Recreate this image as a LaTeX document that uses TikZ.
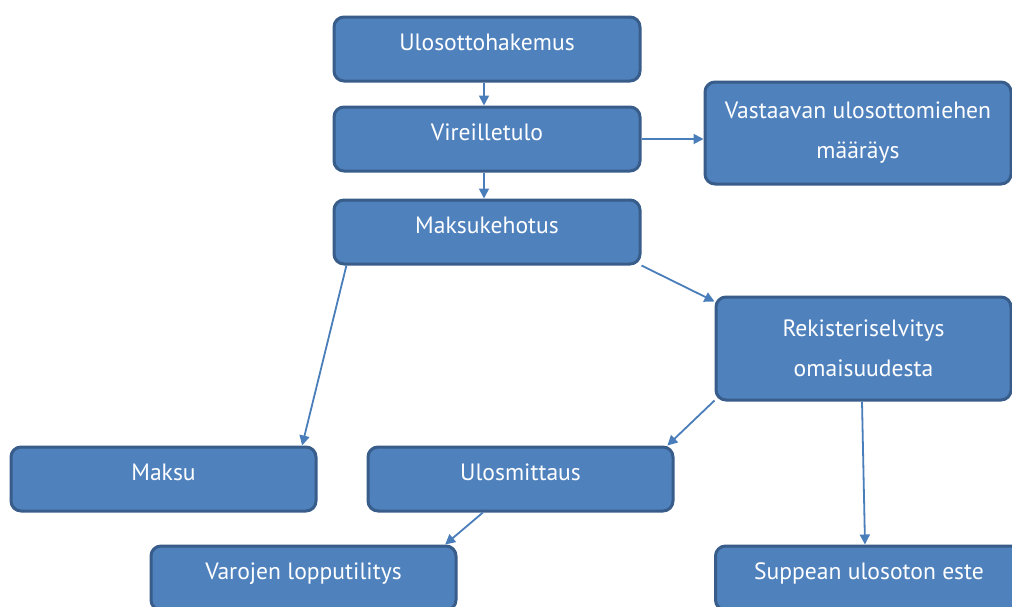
\documentclass[tikz,border=0pt]{standalone}
\usepackage{fontspec}
\setmainfont{PT Sans}
\usetikzlibrary{arrows.meta,calc}
\definecolor{boxfill}{HTML}{4F81BD}
\definecolor{boxline}{HTML}{385D8A}
\definecolor{arrowc}{HTML}{4A7EBB}
\begin{document}
\begin{tikzpicture}[x=1pt,y=-1pt,
  flowbox/.style={draw=boxline, line width=3pt, fill=boxfill, rounded corners=10pt,
    text=white, font=\fontsize{23.6}{40}\selectfont, align=center, inner sep=0pt},
  onebox/.style={flowbox, minimum width=306pt, minimum height=64pt, text depth=13pt},
  twobox/.style={flowbox, minimum height=102pt},
  conn/.style={draw=arrowc, line width=1.8pt, -{Triangle[length=10pt,width=10pt]}}]
\useasboundingbox (0,0) rectangle (1012,606);
\fill[white] (0,0) rectangle (1012,606);
\clip (0,0) rectangle (1012,606);

\node[onebox] (ulos) at (487,49) {Ulosottohakemus};
\node[onebox] (vir) at (487,139) {Vireilletulo};
\node[onebox] (maks) at (487,232) {Maksukehotus};
\node[twobox, minimum width=306pt] (vast) at (858,133) {Vastaavan ulosottomiehen\\määräys};
\node[twobox, minimum width=295pt, minimum height=103pt] (rek) at (863.5,348.5) {Rekisteriselvitys\\omaisuudesta};
\node[onebox, minimum width=305pt] (maksu) at (163.5,479) {Maksu};
\node[onebox, minimum width=305pt] (ulosm) at (520.5,479) {Ulosmittaus};
\node[onebox, minimum width=305pt] (varo) at (303.5,578) {Varojen lopputilitys};
\node[onebox, minimum width=307pt] (supp) at (869,578) {Suppean ulosoton este};

\draw[conn] ($(ulos.south)+(-3,0)$) -- ($(vir.north)+(-3,0)$);
\draw[conn] ($(vir.south)+(-3,0)$) -- ($(maks.north)+(-3,0)$);
\draw[conn] (vir.east) -- (vir.east -| vast.west);
\draw[conn] (maks.south east) -- ($(rek.north west)+(0,6)$);
\draw[conn] ($(maks.south west)!0.045!(maks.south east)$) -- ($(maksu.north west)!0.95!(maksu.north east)$);
\draw[conn] ($(rek.south west)+(0,-1)$) -- ($(ulosm.north west)!0.977!(ulosm.north east)$);
\draw[conn] ($(rek.south)+(-1.5,0)$) -- ($(supp.north)+(-4,0)$);
\draw[conn] ($(ulosm.south west)!0.378!(ulosm.south east)$) -- ($(varo.north west)!0.96!(varo.north east)$);
\end{tikzpicture}
\end{document}
